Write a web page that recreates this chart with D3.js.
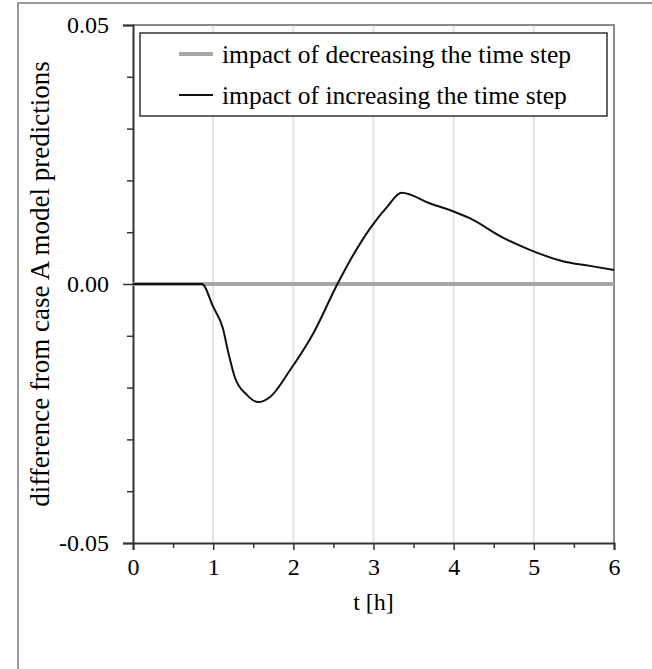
<!DOCTYPE html>
<html><head><meta charset="utf-8">
<script src="https://cdn.jsdelivr.net/npm/d3@7"></script>
<style>body{margin:0;background:#fff}svg{display:block}svg text{font-family:"Liberation Serif","Times New Roman",serif !important;fill:#000}</style>
</head><body><svg id="c" width="652" height="669"></svg>
<script>
// ---- data ----
const seriesNames = ["impact of decreasing the time step", "impact of increasing the time step"];
const decT = [0, 6];
const decV = [0, 0];
const incT = [0, 0.5, 0.86, 1.0, 1.12, 1.19, 1.27, 1.42, 1.56, 1.71, 1.96, 2.25, 2.55, 2.71, 2.96, 3.17, 3.35, 3.70, 4.00, 4.20, 4.62, 4.95, 5.36, 5.70, 6.0];
const incV = [0, 0, 0, -0.0044, -0.0085, -0.0133, -0.018, -0.0214, -0.0228, -0.0218, -0.0166, -0.0095, 0, 0.0046, 0.0108, 0.0149, 0.0176, 0.0156, 0.0140, 0.0127, 0.0089, 0.0066, 0.0044, 0.0035, 0.0027];
const xTicks = [0, 1, 2, 3, 4, 5, 6];
const yTicks = [-0.05, 0, 0.05];
const yTickLabels = ["-0.05", "0.00", "0.05"];
const xTitle = "t [h]";
const yTitle = "difference from case A model predictions";

// ---- layout ----
const svg = d3.select("#c");
const L = 133, R = 614, T = 25, B = 543;
const x = d3.scaleLinear().domain([0, 6]).range([L, R]);
const y = d3.scaleLinear().domain([-0.05, 0.05]).range([B, T]);

// outer frame
svg.append("rect").attr("x", 18).attr("y", 3).attr("width", 700).attr("height", 700)
  .attr("fill", "none").attr("stroke", "#999").attr("stroke-width", 2);

// grid
svg.append("g").selectAll("line").data(xTicks.filter(d => d > 0 && d < 6)).join("line")
  .attr("x1", d => x(d)).attr("x2", d => x(d)).attr("y1", T).attr("y2", B)
  .attr("stroke", "#e3e3e3").attr("stroke-width", 2);

// plot border (top/right)
svg.append("path").attr("d", `M${L},${T}H${R}V${B}`).attr("fill", "none")
  .attr("stroke", "#8a8a8a").attr("stroke-width", 2);

// axes
const xAxis = d3.axisBottom(x).tickValues(xTicks).tickSize(7).tickPadding(8).tickFormat(d3.format("d"));
const gx = svg.append("g").attr("transform", `translate(0,${B})`).call(xAxis);
gx.attr("font-family", null).attr("font-size", 24);
const xMinor = d3.axisBottom(x).tickValues(d3.range(0.5, 6, 1)).tickSize(5).tickFormat("");
svg.append("g").attr("transform", `translate(0,${B})`).call(xMinor).select(".domain").remove();

const yAxis = d3.axisLeft(y).tickValues(yTicks).tickSize(10).tickPadding(14)
  .tickFormat((d, i) => yTickLabels[i]);
const gy = svg.append("g").attr("transform", `translate(${L},0)`).call(yAxis);
gy.attr("font-family", null).attr("font-size", 24);
const yMinor = d3.axisLeft(y).tickValues(d3.range(-0.04, 0.045, 0.01).filter(v => Math.abs(v) > 1e-9)).tickSize(6).tickFormat("");
svg.append("g").attr("transform", `translate(${L},0)`).call(yMinor).select(".domain").remove();

svg.selectAll(".domain").attr("stroke", "#333").attr("stroke-width", 2);
svg.selectAll(".tick line").attr("stroke", "#333").attr("stroke-width", 1.5);

// titles
svg.append("text").attr("x", (L + R) / 2).attr("y", 610).attr("text-anchor", "middle")
  .attr("font-size", 24).text(xTitle);
svg.append("text").attr("transform", `translate(49,${(T + B) / 2}) rotate(-90)`)
  .attr("text-anchor", "middle").attr("font-size", 27).text(yTitle);

// series
svg.append("path").datum(decT.map((t, i) => [t, decV[i]]))
  .attr("d", d3.line().x(d => x(d[0])).y(d => y(d[1])))
  .attr("fill", "none").attr("stroke", "#a6a6a6").attr("stroke-width", 4);
svg.append("path").datum(incT.map((t, i) => [t, incV[i]]))
  .attr("d", d3.line().x(d => x(d[0])).y(d => y(d[1])).curve(d3.curveMonotoneX))
  .attr("fill", "none").attr("stroke", "#111").attr("stroke-width", 2);

// legend
const lg = svg.append("g");
lg.append("rect").attr("x", 140).attr("y", 33).attr("width", 467).attr("height", 83)
  .attr("fill", "#fff").attr("stroke", "#333").attr("stroke-width", 1.5);
const rows = [{ c: "#a6a6a6", w: 4, y: 54 }, { c: "#111", w: 2, y: 95 }];
rows.forEach((r, i) => {
  lg.append("line").attr("x1", 179).attr("x2", 213).attr("y1", r.y).attr("y2", r.y)
    .attr("stroke", r.c).attr("stroke-width", r.w);
  lg.append("text").attr("x", 222).attr("y", r.y).attr("dy", "0.35em")
    .attr("font-size", 25.5).text(seriesNames[i]);
});
</script></body></html>
